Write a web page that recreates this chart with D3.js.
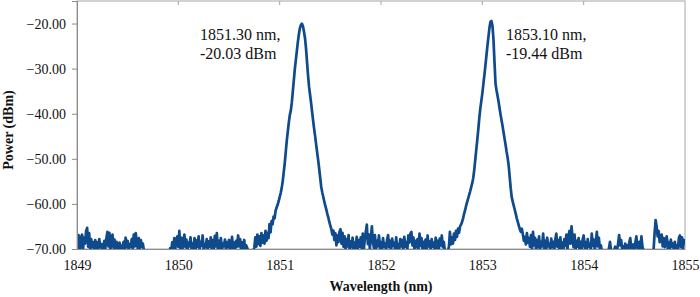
<!DOCTYPE html>
<html>
<head>
<meta charset="utf-8">
<script src="https://cdn.jsdelivr.net/npm/d3@7"></script>
<style>
body { margin: 0; background: #fff; }
</style>
</head>
<body>
<script>
// spectrum sampled every 0.01 nm from 1849.00 nm (20 samples per row)
const wlStart = 1849.0;
const wlStep = 0.01;
const power = [
  -66.5,-69.8,-67.0,-70.2,-68.2,-66.8,-69.9,-67.5,-68.8,-66.0,-65.3,-69.5,-66.5,-70.3,-67.8,-69.6,-68.5,-70.1,-68.0,-69.7,
  -68.5,-70.0,-67.8,-69.6,-68.9,-70.3,-69.2,-68.2,-69.8,-67.6,-66.2,-69.4,-66.4,-70.1,-67.5,-66.8,-69.7,-67.9,-70.2,-68.4,
  -69.0,-70.2,-68.6,-69.8,-70.4,-69.3,-68.4,-69.9,-67.5,-69.6,-68.2,-70.3,-68.9,-69.5,-67.8,-70.0,-66.8,-69.4,-66.5,-68.7,
  -69.9,-67.6,-70.2,-68.0,-69.5,-68.8,-70.3,-71.0,-72.0,-72.0,-72.0,-72.0,-72.0,-72.0,-72.0,-72.0,-72.0,-72.0,-72.0,-72.0,
  -72.0,-72.0,-72.0,-72.0,-72.0,-72.0,-72.0,-72.0,-72.0,-72.0,-72.0,-71.0,-69.8,-70.4,-68.5,-69.7,-67.6,-69.9,-68.0,-67.2,
  -69.5,-66.0,-69.8,-67.5,-70.1,-68.2,-66.8,-69.6,-67.9,-70.2,-68.6,-69.4,-67.4,-70.0,-68.8,-69.7,-67.6,-70.3,-68.1,-69.5,
  -67.2,-70.0,-68.4,-69.3,-67.0,-70.2,-68.9,-69.6,-67.8,-70.1,-68.3,-69.5,-67.4,-70.3,-68.0,-69.8,-67.1,-69.4,-66.5,-70.0,
  -68.2,-69.7,-67.6,-70.2,-68.8,-69.4,-67.9,-70.0,-68.5,-69.6,-68.0,-70.3,-69.1,-67.3,-69.8,-68.6,-70.1,-68.2,-69.5,-67.0,
  -69.4,-67.8,-70.2,-68.5,-69.7,-68.0,-70.3,-69.2,-69.8,-70.6,-71.2,-71.5,-71.8,-71.2,-70.6,-69.6,-67.4,-69.5,-66.8,-68.9,
  -67.2,-69.3,-66.5,-68.6,-67.0,-68.8,-66.0,-68.2,-66.4,-67.6,-64.5,-66.3,-63.8,-64.5,-62.8,-63.2,-61.5,-60.8,-60.2,-59.4,
  -58.5,-57.6,-56.5,-55.0,-53.0,-51.0,-48.5,-46.0,-44.0,-42.0,-40.3,-39.3,-37.5,-35.0,-32.5,-30.0,-28.0,-26.0,-24.0,-22.3,
  -21.0,-20.3,-20.03,-20.6,-21.8,-23.2,-25.5,-28.5,-31.5,-34.0,-35.8,-37.6,-39.6,-41.5,-43.3,-45.0,-46.8,-48.6,-50.3,-52.2,
  -54.2,-56.2,-57.4,-58.4,-59.4,-60.4,-61.2,-62.2,-63.0,-64.0,-64.8,-65.6,-66.8,-65.9,-68.0,-66.5,-69.2,-67.0,-68.5,-66.2,
  -65.6,-68.8,-66.4,-69.5,-67.2,-70.0,-67.8,-69.4,-66.9,-70.2,-68.3,-69.6,-67.5,-70.3,-68.6,-69.8,-67.3,-70.1,-68.0,-69.5,
  -67.4,-69.9,-66.6,-70.2,-67.8,-66.2,-64.6,-68.9,-66.8,-70.0,-67.5,-65.0,-68.4,-69.7,-66.9,-70.1,-68.2,-69.4,-67.0,-69.8,
  -68.5,-70.2,-67.6,-69.5,-68.8,-70.3,-67.9,-66.9,-69.6,-68.2,-70.1,-67.7,-69.3,-68.6,-70.2,-67.4,-69.8,-68.9,-70.0,-67.8,
  -69.4,-68.0,-70.2,-67.3,-69.5,-68.5,-70.0,-67.0,-68.6,-66.6,-66.2,-69.2,-67.4,-70.1,-68.2,-69.6,-67.8,-70.0,-66.6,-69.3,
  -67.6,-70.2,-68.4,-69.7,-67.9,-70.1,-67.0,-69.4,-68.3,-70.2,-67.8,-69.5,-68.6,-70.0,-67.5,-69.8,-68.2,-70.3,-67.7,-69.2,
  -67.0,-69.6,-68.4,-70.3,-70.8,-71.0,-70.5,-69.5,-66.2,-69.0,-67.4,-68.8,-66.6,-68.0,-66.0,-67.3,-65.5,-66.4,-65.0,-64.6,
  -64.0,-63.2,-62.2,-61.4,-60.4,-59.6,-58.8,-58.0,-57.2,-56.3,-55.4,-54.3,-52.5,-50.3,-48.0,-45.8,-43.5,-41.0,-38.8,-37.2,
  -35.5,-33.5,-31.5,-29.4,-27.2,-25.0,-23.0,-21.0,-19.6,-19.44,-20.5,-23.5,-28.5,-33.3,-34.8,-36.0,-37.3,-38.8,-40.2,-41.5,
  -42.8,-44.2,-45.6,-47.0,-48.5,-49.8,-51.5,-54.0,-56.5,-58.5,-59.5,-60.4,-61.3,-62.2,-63.2,-64.0,-64.8,-65.6,-66.2,-65.5,
  -66.8,-68.2,-67.3,-69.0,-66.5,-68.6,-67.6,-69.5,-66.9,-70.0,-66.2,-69.2,-67.5,-70.1,-68.0,-69.6,-67.2,-70.2,-68.4,-69.4,
  -66.6,-69.8,-68.2,-70.3,-67.5,-69.4,-68.8,-70.1,-67.7,-69.6,-68.4,-70.2,-67.9,-66.6,-69.5,-68.0,-70.3,-67.4,-69.7,-68.6,
  -70.0,-67.8,-69.3,-66.8,-70.2,-67.2,-66.0,-68.8,-65.0,-67.5,-69.6,-66.8,-70.1,-68.2,-69.5,-67.6,-70.3,-68.4,-69.8,-67.9,
  -67.0,-69.7,-68.5,-70.2,-67.8,-69.5,-68.9,-70.1,-66.6,-69.3,-67.9,-70.2,-68.3,-66.2,-69.4,-67.5,-70.0,-69.2,-70.4,-70.8,
  -71.0,-70.6,-71.2,-70.4,-70.8,-69.8,-68.4,-70.3,-70.8,-71.0,-70.5,-69.5,-70.6,-70.2,-68.8,-66.9,-69.2,-68.0,-70.1,-69.4,
  -70.3,-68.8,-70.0,-69.2,-70.4,-68.5,-67.6,-69.8,-70.2,-69.0,-70.4,-68.6,-67.2,-69.7,-70.1,-68.4,-69.8,-67.2,-69.5,-70.2,
  -70.6,-71.2,-72.0,-72.0,-72.0,-72.0,-72.0,-72.0,-71.0,-70.2,-66.5,-63.6,-65.0,-67.2,-66.0,-68.5,-67.3,-66.8,-69.4,-67.6,
  -69.6,-68.2,-67.2,-69.8,-68.5,-70.1,-67.9,-69.5,-68.8,-70.2,-68.4,-69.9,-69.2,-70.3,-67.5,-67.0,-69.6,-67.4,-69.8,-68.0,
  -69.0
];
const xTicks = [1849, 1850, 1851, 1852, 1853, 1854, 1855];
const yTicks = [-70, -60, -50, -40, -30, -20];
const peakLabels = [
  ["1851.30 nm,", "-20.03 dBm"],
  ["1853.10 nm,", "-19.44 dBm"]
];
const labelPos = [[200, 40], [506, 40]];

const W = 700, H = 297;
const m = { left: 77, right: 15, top: 1, bottom: 48 };
const font = '"Liberation Serif", "Times New Roman", serif';

const svg = d3.select("body").append("svg")
  .attr("width", W)
  .attr("height", H);

const x = d3.scaleLinear().domain([1849, 1855]).range([m.left, W - m.right]);
const y = d3.scaleLinear().domain([-70, -15]).range([H - m.bottom, m.top]);

const pts = power.map((p, i) => [wlStart + i * wlStep, p]);

svg.append("clipPath").attr("id", "clip")
  .append("rect")
  .attr("x", m.left).attr("y", m.top)
  .attr("width", W - m.right - m.left)
  .attr("height", H - m.bottom - m.top);

// frame
svg.append("rect")
  .attr("x", m.left).attr("y", m.top)
  .attr("width", W - m.right - m.left)
  .attr("height", H - m.bottom - m.top)
  .attr("fill", "none")
  .attr("stroke", "#a6a6a6")
  .attr("stroke-width", 1);

// top ticks
svg.selectAll(".tt")
  .data(xTicks.slice(1, -1))
  .enter().append("line")
  .attr("x1", d => x(d)).attr("x2", d => x(d))
  .attr("y1", m.top).attr("y2", m.top + 4)
  .attr("stroke", "#a6a6a6");

const line = d3.line()
  .x(d => x(d[0]))
  .y(d => y(d[1]));

svg.append("path")
  .datum(pts)
  .attr("clip-path", "url(#clip)")
  .attr("fill", "none")
  .attr("stroke", "#0e4a8c")
  .attr("stroke-width", 2.7)
  .attr("stroke-linejoin", "round")
  .attr("d", line);

// y axis
const ya = svg.append("g")
  .attr("transform", `translate(${m.left},0)`)
  .call(d3.axisLeft(y).tickValues(yTicks).tickFormat(d3.format(".2f")).tickSize(5).tickPadding(6));
ya.select(".domain").attr("stroke", "#8c8c8c");
ya.selectAll(".tick line").attr("stroke", "#8c8c8c");
ya.selectAll("text").style("font-family", font).style("font-size", "14px").attr("fill", "#111");

// x axis
const xa = svg.append("g")
  .attr("transform", `translate(0,${H - m.bottom})`)
  .call(d3.axisBottom(x).tickValues(xTicks).tickFormat(d3.format("d")).tickSize(0).tickPadding(11));
xa.select(".domain").attr("stroke", "#8c8c8c");
xa.selectAll("text").style("font-family", font).style("font-size", "14px").attr("fill", "#111");

svg.append("text")
  .attr("x", (m.left + W - m.right) / 2)
  .attr("y", 291)
  .attr("text-anchor", "middle")
  .style("font-family", font)
  .style("font-size", "14px")
  .style("font-weight", "bold")
  .attr("fill", "#111")
  .text("Wavelength (nm)");

svg.append("text")
  .attr("transform", `translate(13,${(m.top + H - m.bottom) / 2 + 5}) rotate(-90)`)
  .attr("text-anchor", "middle")
  .style("font-family", font)
  .style("font-size", "14px")
  .style("font-weight", "bold")
  .attr("fill", "#111")
  .text("Power (dBm)");

// peak annotations
peakLabels.forEach((lines, k) => {
  const t = svg.append("text")
    .attr("x", labelPos[k][0])
    .attr("y", labelPos[k][1])
    .style("font-family", font)
    .style("font-size", "16px")
    .attr("fill", "#111");
  lines.forEach((s, j) => {
    t.append("tspan")
      .attr("x", labelPos[k][0])
      .attr("dy", j === 0 ? 0 : 18.5)
      .text(s);
  });
});
</script>
</body>
</html>
